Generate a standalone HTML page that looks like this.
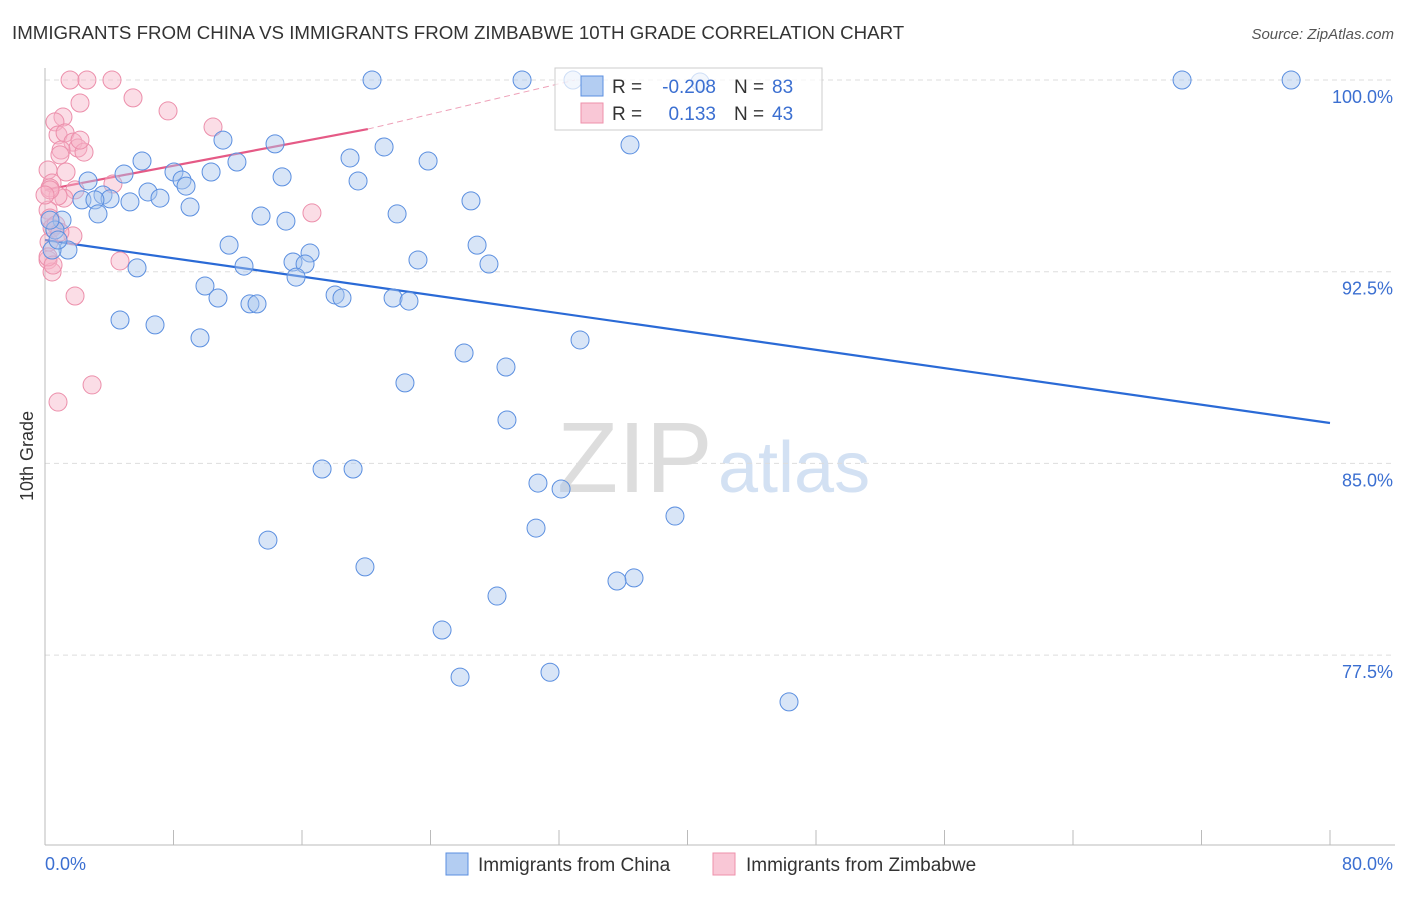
<!DOCTYPE html>
<html><head><meta charset="utf-8"><style>
body{margin:0;background:#fff;font-family:"Liberation Sans",sans-serif}
svg text{font-family:"Liberation Sans",sans-serif}
</style></head><body>
<svg id="chart" width="1406" height="892">
<text x="12" y="39" font-size="18.7" fill="#333">IMMIGRANTS FROM CHINA VS IMMIGRANTS FROM ZIMBABWE 10TH GRADE CORRELATION CHART</text>
<text x="1394" y="39" font-size="15" fill="#555" font-style="italic" text-anchor="end">Source: ZipAtlas.com</text>
<g>
<text x="557" y="492" font-size="100" fill="#ddd" font-family="Liberation Serif,serif">ZIP</text>
<text x="718" y="492" font-size="72" fill="#d3e1f3">atlas</text>
</g>
<g id="grid"></g><g id="axes"></g><g id="trend"></g><g id="pts"></g>
<text x="33" y="456" font-size="18" fill="#333" transform="rotate(-90 33 456)" text-anchor="middle">10th Grade</text>
<text x="45" y="870" font-size="18" fill="#3b6fd1">0.0%</text>
<text x="1393" y="870" font-size="18" fill="#3b6fd1" text-anchor="end">80.0%</text>
<g>
<rect x="555" y="68" width="267" height="62" fill="#fff" fill-opacity="0.7" stroke="#ccc"/>
<rect x="581" y="76" width="22" height="20" fill="#b3cdf2" stroke="#5b8fe0"/>
<rect x="581" y="103" width="22" height="20" fill="#f9c7d6" stroke="#ee90ab"/>
<text x="612" y="93" font-size="19" fill="#333">R = </text><text x="716" y="93" font-size="19" fill="#3b6fd1" text-anchor="end">-0.208</text>
<text x="734" y="93" font-size="19" fill="#333">N = </text><text x="772" y="93" font-size="19" fill="#3b6fd1">83</text>
<text x="612" y="120" font-size="19" fill="#333">R = </text><text x="716" y="120" font-size="19" fill="#3b6fd1" text-anchor="end">0.133</text>
<text x="734" y="120" font-size="19" fill="#333">N = </text><text x="772" y="120" font-size="19" fill="#3b6fd1">43</text>
</g>
<g>
<rect x="446" y="853" width="22" height="22" fill="#b3cdf2" stroke="#5b8fe0"/>
<text x="478" y="871" font-size="19" fill="#333">Immigrants from China</text>
<rect x="713" y="853" width="22" height="22" fill="#f9c7d6" stroke="#ee90ab"/>
<text x="746" y="871" font-size="19" fill="#333">Immigrants from Zimbabwe</text>
</g>
</svg>
<script>
const yTicks=[100,92.5,85,77.5];
const yTickLabels=["100.0%","92.5%","85.0%","77.5%"];
const xTicks=[8,16,24,32,40,48,56,64,72,80];
const chinaX=[20.36,29.70,32.87,70.79,77.58,40.78,11.08,14.32,36.42,21.11,6.04,18.99,23.85,11.95,8.03,4.92,10.34,8.53,2.68,14.76,19.49,8.78,6.41,3.61,2.30,4.05,7.16,5.29,3.11,9.03,26.52,3.30,13.45,21.92,15.00,1.06,0.62,11.46,26.90,1.43,16.50,15.44,16.19,23.22,12.39,27.64,5.73,15.63,9.96,18.06,18.49,10.77,21.67,22.66,12.76,13.20,4.67,6.85,9.65,33.31,26.09,28.70,22.41,28.76,17.25,19.18,30.69,32.13,39.22,30.57,13.88,19.92,36.67,35.61,28.14,24.72,25.84,31.44,46.32,0.44,0.81,0.31];
const chinaY=[100,100,100,100,100,99.92,97.65,97.50,97.46,97.38,96.83,96.95,96.83,96.79,96.40,96.32,96.40,96.09,96.05,96.21,96.05,95.85,95.62,95.50,95.31,95.35,95.38,95.23,95.31,95.03,95.27,94.76,94.68,94.76,94.48,94.52,94.13,93.54,93.54,93.35,93.23,92.88,92.80,92.96,92.72,92.80,92.65,92.29,91.94,91.59,91.47,91.47,91.47,91.35,91.24,91.24,90.61,90.42,89.91,89.83,89.32,88.77,88.15,86.70,84.78,84.78,84.23,84.00,82.94,82.47,82.00,80.95,80.52,80.40,79.81,78.48,76.64,76.83,75.67,93.35,93.74,94.52];
const zimX=[1.56,2.61,4.17,5.48,2.18,7.66,1.12,10.46,0.62,0.81,1.25,1.74,2.05,2.43,1.00,0.93,0.19,1.31,0.44,4.23,0.31,1.87,1.18,0.81,0.19,0.31,0.44,1.74,0.25,16.62,4.67,0.19,0.44,1.87,2.93,0.81,0.31,0,0.68,0.93,0.19,2.18,0.50];
const zimY=[100,100,100,99.30,99.10,98.79,98.55,98.16,98.36,97.85,97.93,97.57,97.34,97.18,97.26,97.07,96.48,96.40,95.97,95.93,95.78,95.70,95.38,95.46,94.91,94.60,94.21,93.90,93.66,94.80,92.92,92.96,92.49,91.55,88.07,87.40,95.70,95.50,94.33,94.05,93.08,97.65,92.76];
const chinaTrendX=[0,80], chinaTrendY=[93.74,86.58];
const zimTrendX=[0,20.1], zimTrendY=[95.70,98.08];
const zimDashX=[20.1,33.0], zimDashY=[98.08,100.0];

const NS="http://www.w3.org/2000/svg";
const sx=v=>45+v/80*1285;
const sy=v=>80+(100-v)/7.5*191.7;
function mk(tag,attrs,parent){const e=document.createElementNS(NS,tag);for(const k in attrs)e.setAttribute(k,attrs[k]);document.getElementById(parent).appendChild(e);return e;}
yTicks.forEach((t,i)=>{
  const l=mk('line',{x1:45,x2:1395,y1:sy(t),y2:sy(t),stroke:'#ddd','stroke-dasharray':'5,4'},'grid');
  
  
  const tx=mk('text',{x:1393,y:sy(t)+23,'font-size':18,fill:'#3b6fd1','text-anchor':'end'},'grid');
  tx.textContent=yTickLabels[i];
  
  
});
let a=mk('line',{x1:45,x2:45,y1:68,y2:845,stroke:'#bbb'},'axes');


a=mk('line',{x1:45,x2:1395,y1:845,y2:845,stroke:'#bbb'},'axes');


xTicks.forEach(t=>{
  const l=mk('line',{x1:sx(t),x2:sx(t),y1:830,y2:845,stroke:'#bbb'},'axes');
  
  
});
function pts(X,Y,fill,stroke,name){
  X.forEach((x,i)=>{
    const c=mk('circle',{cx:sx(x),cy:sy(Y[i]),r:9,fill:fill,stroke:stroke,'stroke-width':1,'fill-opacity':0.45},'pts');
    
    
  });
}
pts(zimX,zimY,'#f6b3c8','#ec8fab','zimbabwe-point');
pts(chinaX,chinaY,'#a9c6ee','#5b8fe0','china-point');
let t=mk('line',{x1:sx(chinaTrendX[0]),y1:sy(chinaTrendY[0]),x2:sx(chinaTrendX[1]),y2:sy(chinaTrendY[1]),stroke:'#2a6ad6','stroke-width':2.2},'trend');


t=mk('line',{x1:sx(zimTrendX[0]),y1:sy(zimTrendY[0]),x2:sx(zimTrendX[1]),y2:sy(zimTrendY[1]),stroke:'#e55a86','stroke-width':2.2},'trend');


t=mk('line',{x1:sx(zimDashX[0]),y1:sy(zimDashY[0]),x2:sx(zimDashX[1]),y2:sy(zimDashY[1]),stroke:'#eea0b8','stroke-width':1,'stroke-dasharray':'6,4'},'trend');


</script>
</body></html>
